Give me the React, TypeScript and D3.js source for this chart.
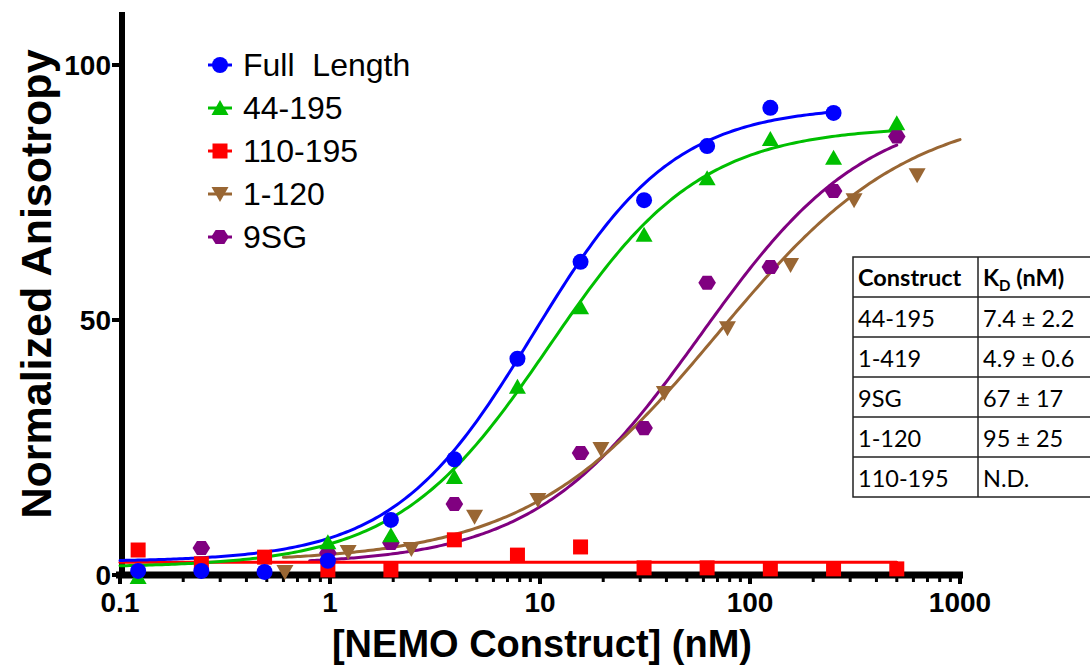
import React from 'react';
import * as d3 from 'd3';

const W = 1090;
const H = 666;

// Series definitions (legend order)
const seriesNames = ['Full  Length', '44-195', '110-195', '1-120', '9SG'];
const seriesColors = ['#0000FF', '#00BF00', '#FF0000', '#996633', '#800080'];
const seriesShapes = ['circle', 'triangle', 'square', 'triangleDown', 'hexagon'];

// Measured anisotropy (normalized) vs NEMO construct concentration (nM)
const fullLengthConc = [0.122, 0.244, 0.488, 0.977, 1.95, 3.91, 7.81, 15.6, 31.3, 62.5, 125, 250];
const fullLengthAniso = [0.8, 0.8, 0.6, 2.8, 10.8, 22.7, 42.4, 61.4, 73.5, 84.1, 91.6, 90.6];

const c44Conc = [0.122, 0.977, 1.95, 3.91, 7.81, 15.6, 31.3, 62.5, 125, 250, 500];
const c44Aniso = [-0.4, 6.4, 7.8, 19.2, 36.9, 52.5, 66.7, 77.8, 85.5, 81.8, 88.6];

const c110Conc = [0.122, 0.244, 0.488, 0.977, 1.95, 3.91, 7.81, 15.6, 31.3, 62.5, 125, 250, 500];
const c110Aniso = [4.9, 2.2, 3.5, 1.0, 1.0, 6.9, 3.9, 5.5, 1.4, 1.4, 1.2, 1.2, 1.2];

const c1120Conc = [0.61, 1.22, 2.44, 4.88, 9.77, 19.5, 39.1, 78.1, 156, 313, 625];
const c1120Aniso = [0.6, 4.5, 5.1, 11.4, 14.7, 24.7, 35.7, 48.4, 60.8, 73.5, 78.4];

const c9sgConc = [0.244, 0.977, 1.95, 3.91, 15.6, 31.3, 62.5, 125, 250, 500];
const c9sgAniso = [5.3, 4.3, 6.3, 13.9, 23.9, 28.8, 57.3, 60.4, 75.3, 86.0];

const seriesConc = [fullLengthConc, c44Conc, c110Conc, c1120Conc, c9sgConc];
const seriesAniso = [fullLengthAniso, c44Aniso, c110Aniso, c1120Aniso, c9sgAniso];

// Four-parameter logistic fit of each series
const fitBottom = [2.6, 1.5, 2.5, 2.5, 2];
const fitTop = [92, 88, 2.5, 92, 92];
const fitEC50 = [9.3, 11, 1, 70, 58];
const fitHill = [1.3, 1.2, 1, 0.95, 1.1];
const fitFrom = [0.1, 0.1, 0.1, 0.6, 0.8];
const fitTo = [250, 500, 500, 1000, 500];

// Axes
const xTicks = [0.1, 1, 10, 100, 1000];
const xTickLabels = ['0.1', '1', '10', '100', '1000'];
const yTicks = [0, 50, 100];

// Dissociation constant table
const tableConstructs = ['44-195', '1-419', '9SG', '1-120', '110-195'];
const tableKd = ['7.4 ± 2.2', '4.9 ± 0.6', '67 ± 17', '95 ± 25', 'N.D.'];

const AXIS_FONT = "'Liberation Sans', Arial, Helvetica, sans-serif";
const TABLE_FONT = "Lato, 'Open Sans', sans-serif";

const x = d3.scaleLog().domain([0.1, 1000]).range([120, 960]);
const y = d3.scaleLinear().domain([0, 110]).range([575, 14]);

function markerPath(shape: string): string {
  switch (shape) {
    case 'circle': {
      const p = d3.path();
      p.arc(0, 0, 8, 0, Math.PI * 2);
      p.closePath();
      return p.toString();
    }
    case 'triangle':
      return 'M0,-8L8.5,7L-8.5,7Z';
    case 'triangleDown':
      return 'M0,8L8.5,-7L-8.5,-7Z';
    case 'square':
      return 'M-7.5,-7.5H7.5V7.5H-7.5Z';
    case 'hexagon': {
      const r = 8.8;
      const pts = d3.range(6).map((i) => {
        const a = (Math.PI / 3) * i;
        return [r * Math.cos(a), r * Math.sin(a) * 0.92];
      });
      return 'M' + pts.map((p) => p.join(',')).join('L') + 'Z';
    }
    default:
      return '';
  }
}

function logistic(i: number, c: number): number {
  const b = fitBottom[i];
  const t = fitTop[i];
  return b + (t - b) / (1 + Math.pow(fitEC50[i] / c, fitHill[i]));
}

function curvePath(i: number): string {
  const lo = Math.log10(fitFrom[i]);
  const hi = Math.log10(fitTo[i]);
  const samples = d3.range(0, 241).map((k) => Math.pow(10, lo + ((hi - lo) * k) / 240));
  const line = d3
    .line<number>()
    .x((c) => x(c))
    .y((c) => y(logistic(i, c)))
    .curve(d3.curveLinear);
  return line(samples) || '';
}

// minor ticks on the log axis
const minorTicks: number[] = [];
for (let e = -1; e < 3; e++) {
  for (let m = 2; m <= 9; m++) minorTicks.push(m * Math.pow(10, e));
}

// draw back-to-front so that the first series ends up on top
const drawOrder = [4, 3, 2, 1, 0];

const legendRowY = [65, 108, 151, 194, 237];

const tableLeft = 853;
const tableRight = 1110;
const tableDivider = 978;
const tableRows = [257, 297, 337, 377, 417, 457, 497];

export default function App() {
  return (
    <svg
      width={W}
      height={H}
      viewBox={`0 0 ${W} ${H}`}
      style={{ position: 'absolute', left: 0, top: 0, background: '#fff', overflow: 'hidden' }}
    >
      <rect x={0} y={0} width={W} height={H} fill="#fff" />

      {/* Axis titles */}
      <text
        transform={`translate(51, 284) rotate(-90)`}
        textAnchor="middle"
        fontFamily={AXIS_FONT}
        fontWeight="bold"
        fontSize={43}
        fill="#000"
      >
        Normalized Anisotropy
      </text>
      <text
        x={542}
        y={657}
        textAnchor="middle"
        fontFamily={AXIS_FONT}
        fontWeight="bold"
        fontSize={38}
        fill="#000"
      >
        [NEMO Construct] (nM)
      </text>

      {/* Y axis */}
      <line x1={122} x2={122} y1={12} y2={578} stroke="#000" strokeWidth={6} />
      {yTicks.map((t) => (
        <g key={`yt${t}`}>
          <line x1={112} x2={122} y1={y(t)} y2={y(t)} stroke="#000" strokeWidth={4} />
          <text
            x={111}
            y={y(t) + 10}
            textAnchor="end"
            fontFamily={AXIS_FONT}
            fontWeight="bold"
            fontSize={28}
            fill="#000"
          >
            {t}
          </text>
        </g>
      ))}

      {/* X axis */}
      <line x1={116} x2={963} y1={575} y2={575} stroke="#000" strokeWidth={7} />
      {minorTicks.map((t) => (
        <line key={`mt${t}`} x1={x(t)} x2={x(t)} y1={575} y2={582} stroke="#000" strokeWidth={3} />
      ))}
      {xTicks.map((t, i) => (
        <g key={`xt${t}`}>
          <line x1={x(t)} x2={x(t)} y1={575} y2={584} stroke="#000" strokeWidth={4} />
          <text
            x={x(t)}
            y={612}
            textAnchor="middle"
            fontFamily={AXIS_FONT}
            fontWeight="bold"
            fontSize={28}
            fill="#000"
          >
            {xTickLabels[i]}
          </text>
        </g>
      ))}

      {/* Fitted curves */}
      {drawOrder.map((i) => (
        <path
          key={`curve${i}`}
          d={curvePath(i)}
          fill="none"
          stroke={seriesColors[i]}
          strokeWidth={3}
          strokeLinecap="round"
        />
      ))}

      {/* Data points */}
      {drawOrder.map((i) => (
        <g key={`pts${i}`} fill={seriesColors[i]}>
          {seriesConc[i].map((c, k) => (
            <path
              key={k}
              d={markerPath(seriesShapes[i])}
              transform={`translate(${x(c)},${y(seriesAniso[i][k])})`}
            />
          ))}
        </g>
      ))}

      {/* Legend */}
      {seriesNames.map((name, i) => (
        <g key={`leg${i}`}>
          <line
            x1={208}
            x2={232}
            y1={legendRowY[i]}
            y2={legendRowY[i]}
            stroke={seriesColors[i]}
            strokeWidth={3}
          />
          <path
            d={markerPath(seriesShapes[i])}
            fill={seriesColors[i]}
            transform={`translate(220,${legendRowY[i]})`}
          />
          <text
            x={243}
            y={legendRowY[i] + 11}
            fontFamily={AXIS_FONT}
            fontSize={32}
            fill="#000"
            style={{ whiteSpace: 'pre' }}
          >
            {name}
          </text>
        </g>
      ))}

      {/* KD table */}
      <g fontFamily={TABLE_FONT} fontSize={23.5} fill="#000">
        <rect x={tableLeft} y={tableRows[0]} width={tableRight - tableLeft} height={tableRows[6] - tableRows[0]} fill="#fff" stroke="#222" strokeWidth={1.5} />
        {tableRows.slice(1, 6).map((ry) => (
          <line key={`tr${ry}`} x1={tableLeft} x2={tableRight} y1={ry} y2={ry} stroke="#222" strokeWidth={1.5} />
        ))}
        <line x1={tableDivider} x2={tableDivider} y1={tableRows[0]} y2={tableRows[6]} stroke="#222" strokeWidth={1.5} />
        <text x={858} y={tableRows[0] + 29} fontWeight="bold">Construct</text>
        <text x={983} y={tableRows[0] + 29} fontWeight="bold">
          <tspan>K</tspan>
          <tspan dy={5} fontSize={15}>D</tspan>
          <tspan dy={-5}> (nM)</tspan>
        </text>
        {tableConstructs.map((c, r) => (
          <g key={`row${r}`}>
            <text x={858} y={tableRows[r + 1] + 30}>{c}</text>
            <text x={983} y={tableRows[r + 1] + 30}>{tableKd[r]}</text>
          </g>
        ))}
      </g>
    </svg>
  );
}
